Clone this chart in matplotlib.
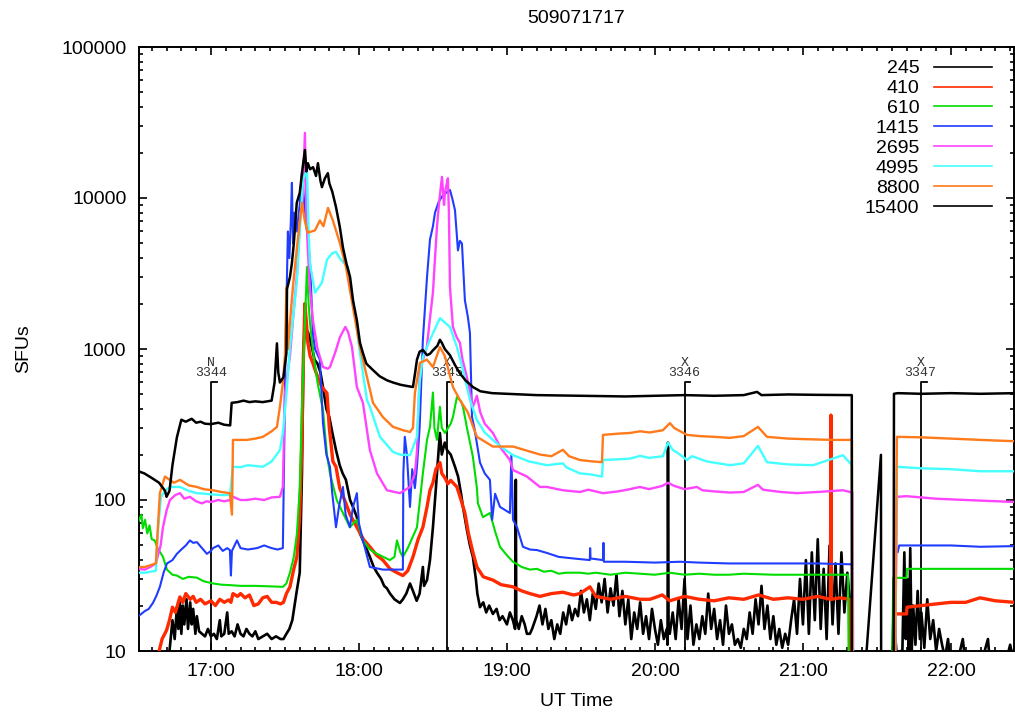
import matplotlib
matplotlib.use("Agg")
import matplotlib.pyplot as plt
from matplotlib.ticker import FixedLocator, FuncFormatter, NullFormatter
import numpy as np

plt.rcParams['font.family'] = ['Liberation Sans', 'DejaVu Sans']

title = "509071717"
freqs = ["245", "410", "610", "1415", "2695", "4995", "8800", "15400"]
colors = ["#000000", "#ff2a00", "#00dd00", "#1f3cff", "#ff44ff", "#44ffff", "#ff7a1a", "#000000"]

# ---- data: time in decimal UT hours, flux in SFU ----
t_245 = [16.51, 16.70, 16.72, 16.74, 16.755, 16.77, 16.78, 16.79, 16.80, 16.81, 16.82, 16.835, 16.845, 16.86, 16.87,
         16.88, 16.895, 16.905, 16.92, 16.94, 16.96, 16.98, 17.0, 17.02, 17.04, 17.06, 17.07, 17.09, 17.11, 17.12,
         17.14, 17.16, 17.18, 17.2, 17.22, 17.24, 17.26, 17.28, 17.30, 17.32, 17.35, 17.38, 17.41, 17.44, 17.47,
         17.49, 17.51, 17.53, 17.55, 17.58, 17.60, 17.615, 17.625, 17.635, 17.645, 17.655, 17.67, 17.685, 17.70,
         17.72, 17.74, 17.757, 17.78, 17.80, 17.82, 17.845, 17.87, 17.89, 17.912, 17.94, 17.96, 17.986, 18.007,
         18.027, 18.05, 18.074, 18.10, 18.122, 18.15, 18.17, 18.189, 18.21, 18.24, 18.277, 18.297, 18.32, 18.345,
         18.365, 18.39, 18.41, 18.432, 18.44, 18.46, 18.48, 18.50, 18.52, 18.547, 18.56, 18.58, 18.595, 18.62,
         18.649, 18.67, 18.69, 18.703, 18.73, 18.75, 18.77, 18.79, 18.80, 18.818, 18.84, 18.86, 18.88, 18.905,
         18.93, 18.95, 18.97, 19.0, 19.02, 19.04, 19.055, 19.060, 19.063, 19.08, 19.1, 19.12, 19.135, 19.155,
         19.17, 19.2, 19.22, 19.24, 19.26, 19.28, 19.30, 19.32, 19.34, 19.36, 19.38, 19.40, 19.42, 19.44, 19.46,
         19.48, 19.50, 19.52, 19.54, 19.56, 19.58, 19.60, 19.62, 19.64, 19.66, 19.68, 19.70, 19.72, 19.74, 19.76,
         19.78, 19.80, 19.82, 19.84, 19.86, 19.88, 19.90, 19.92, 19.94, 19.96, 19.98, 20.0, 20.02, 20.04, 20.06,
         20.08, 20.085, 20.088, 20.092, 20.10, 20.12, 20.14, 20.16, 20.18, 20.20, 20.22, 20.24, 20.26, 20.28,
         20.30, 20.32, 20.34, 20.36, 20.38, 20.40, 20.42, 20.44, 20.46, 20.48, 20.50, 20.52, 20.54, 20.56, 20.58,
         20.60, 20.62, 20.64, 20.66, 20.68, 20.70, 20.72, 20.74, 20.76, 20.78, 20.80, 20.82, 20.84, 20.86, 20.88,
         20.90, 20.92, 20.94, 20.96, 20.98, 21.00, 21.02, 21.04, 21.06, 21.08, 21.10, 21.12, 21.14, 21.16, 21.18,
         21.20, 21.22, 21.24, 21.26, 21.28, 21.30, 21.32, 21.33, 21.60, 21.615, 21.625, 21.635, 21.65, 21.66,
         21.67, 21.685, 21.695, 21.705, 21.715, 21.725, 21.735, 21.745, 21.76, 21.775, 21.79, 21.80, 21.82, 21.84,
         21.86, 21.88, 21.90, 21.92, 21.94, 21.96, 21.98, 22.0, 22.05, 22.08, 22.1, 22.15, 22.2, 22.25, 22.27,
         22.3, 22.35, 22.4, 22.43]
v_245 = [5, 5, 10, 16, 12, 19.5, 14, 21, 13, 20, 15, 22, 14, 21, 15,
         19, 13, 17, 13.5, 13, 12.5, 14, 12.5, 13, 12, 16, 12.5, 13, 18, 13,
         13.5, 12.5, 15, 13, 12.5, 14, 13, 12.5, 13.5, 12, 12.5, 13, 12, 12.5, 12,
         12, 13, 14, 16, 25, 33, 150, 1000, 1400, 1200, 1300, 1150, 1000, 850,
         800, 700, 560, 400, 354, 280, 214, 170, 150, 136, 100, 90, 77, 60,
         54, 48, 42, 36, 33, 30, 27, 26, 24, 22, 20.8, 22, 24, 28,
         25, 21.5, 24, 36, 27, 29.5, 40, 66, 120, 278, 200, 240, 214, 200,
         166, 143, 110, 90, 63, 50, 42, 30, 24, 19.5, 21, 18, 20, 17.6,
         19, 16, 17, 15, 18, 16, 14, 136, 16, 14, 17, 15, 13, 13,
         14, 17, 20, 15, 19, 14, 16, 12, 15, 13, 18, 15, 20, 16, 19,
         17, 25, 18, 22, 16, 24, 19, 28, 21, 30, 18, 26, 20, 32, 17,
         25, 15, 22, 12, 18, 14, 21, 13, 17, 12, 19, 14, 11, 16, 12,
         14, 11, 240, 15, 13, 18, 12, 22, 14, 30, 12, 20, 11, 15,
         12, 17, 13, 24, 14, 19, 12, 16, 11, 20, 13, 15, 11, 12, 10.5,
         14, 12, 18, 13, 22, 15, 27, 14, 20, 12, 17, 11, 14, 10.5, 13,
         11, 16, 22, 13, 30, 15, 40, 13, 45, 16, 55, 14, 35, 12, 50,
         15, 38, 13, 45, 18, 33, 20, 5, 5, 26, 12, 9, 8, 10,
         8, 45, 12, 30, 9, 48, 10, 20, 11, 25, 12, 18, 10.5, 22,
         12, 16, 10, 14, 11, 9, 12, 8, 9, 12, 8, 7, 8, 12, 7,
         8, 7, 11, 8]

t_410 = [16.51, 16.64, 16.65, 16.67, 16.70, 16.72, 16.74, 16.76, 16.79, 16.81, 16.83, 16.86, 16.88, 16.9, 16.93,
         16.96, 17.0, 17.03, 17.06, 17.09, 17.12, 17.135, 17.149, 17.18, 17.2, 17.23, 17.26, 17.29, 17.32, 17.35,
         17.38, 17.41, 17.44, 17.47, 17.49, 17.51, 17.534, 17.56, 17.581, 17.60, 17.615, 17.625, 17.635, 17.645,
         17.655, 17.67, 17.69, 17.71, 17.73, 17.75, 17.784, 17.80, 17.824, 17.845, 17.87, 17.912, 17.94, 17.986,
         18.03, 18.074, 18.12, 18.162, 18.21, 18.257, 18.297, 18.33, 18.365, 18.40, 18.432, 18.46, 18.48, 18.50,
         18.52, 18.547, 18.56, 18.581, 18.601, 18.62, 18.662, 18.69, 18.716, 18.74, 18.77, 18.797, 18.84, 18.905,
         18.96, 19.041, 19.1, 19.155, 19.223, 19.3, 19.378, 19.45, 19.493, 19.561, 19.6, 19.649, 19.7, 19.8, 19.9,
         19.966, 20.05, 20.1, 20.2, 20.3, 20.4, 20.5, 20.6, 20.7, 20.8, 20.9, 21.0, 21.1, 21.186, 21.189, 21.192,
         21.25, 21.318, 21.32, 21.62, 21.622, 21.70, 21.703, 21.8, 21.9, 22.0, 22.1, 22.196, 22.3, 22.43]
v_410 = [5, 5, 10, 12, 13.7, 16, 19.5, 18, 22.8, 21, 24, 22, 23, 21, 22,
         20.5, 21.5, 20, 22, 21, 21.8, 21, 24, 23, 24, 22.5, 23.5, 20, 20.5, 22.5,
         23, 21, 21, 20.5, 21, 24, 26.6, 35, 42, 80, 250, 900, 2000, 1500,
         1100, 900, 800, 700, 620, 560, 510, 300, 180, 166, 120, 95, 80, 66,
         55, 49, 43, 40, 35, 33, 31.6, 34, 42, 55, 66, 90, 116, 130,
         160, 177, 150, 140, 128, 135, 122, 100, 82, 60, 45, 36, 31, 29.5,
         27.5, 26.6, 25, 24, 23, 24, 24.5, 23.5, 24, 26.6, 23, 22.5, 22, 23, 22,
         22, 23.5, 21.5, 23, 22, 21.5, 22.5, 22, 23.5, 22, 22.5, 22, 23, 22, 365, 22,
         22.5, 22, 5, 5, 17.6, 17.6, 19.5, 20, 20.5, 21, 21, 22.5, 21.5, 21]

t_610 = [16.51, 16.53, 16.54, 16.555, 16.57, 16.585, 16.60, 16.62, 16.64, 16.676, 16.703, 16.74, 16.77, 16.81, 16.85,
         16.905, 16.95, 17.014, 17.07, 17.128, 17.2, 17.3, 17.4, 17.486, 17.51, 17.534, 17.56, 17.581, 17.60,
         17.615, 17.635, 17.649, 17.66, 17.669, 17.689, 17.72, 17.757, 17.784, 17.804, 17.85, 17.892, 17.939,
         17.986, 18.027, 18.074, 18.122, 18.209, 18.24, 18.257, 18.28, 18.297, 18.33, 18.392, 18.432, 18.46, 18.48,
         18.50, 18.51, 18.527, 18.547, 18.56, 18.581, 18.62, 18.635, 18.662, 18.69, 18.703, 18.73, 18.77, 18.797,
         18.804, 18.838, 18.885, 18.92, 18.953, 19.0, 19.041, 19.1, 19.155, 19.203, 19.25, 19.3, 19.35, 19.4,
         19.493, 19.55, 19.6, 19.7, 19.8, 19.9, 20.0, 20.1, 20.2, 20.3, 20.4, 20.5, 20.6, 20.8, 21.0, 21.2,
         21.305, 21.31, 21.60, 21.61, 21.70, 21.703, 22.43]
v_610 = [72, 80, 65, 74, 60, 68, 55, 54, 48, 42, 34.6, 32, 31.6, 30, 31,
         30.6, 29, 28, 27.5, 27.3, 27, 27, 26.8, 26.6, 28, 33, 42, 60, 120,
         414, 1500, 3500, 2000, 1500, 985, 600, 395, 200, 150, 100, 82, 66,
         74, 54, 47, 44, 40, 42, 54, 45, 42, 48, 66, 150, 250, 305,
         515, 300, 250, 414, 300, 278, 320, 354, 480, 450, 414, 300, 193, 120,
         95, 77, 82, 62, 49, 43, 39, 36, 34.6, 35, 33.5, 34, 32.5, 33,
         33, 32.5, 33, 32, 33, 32.5, 32, 33, 32, 32.5, 32, 32, 32.5, 32, 32, 32,
         32, 5, 5, 30.5, 30.5, 35, 35]

t_1415 = [16.51, 16.554, 16.58, 16.608, 16.63, 16.655, 16.68, 16.703, 16.74, 16.77, 16.80, 16.83, 16.858, 16.88,
          16.905, 16.94, 16.973, 17.0, 17.014, 17.05, 17.08, 17.11, 17.128, 17.135, 17.142, 17.176, 17.2, 17.25,
          17.311, 17.36, 17.41, 17.45, 17.486, 17.495, 17.50, 17.51, 17.52, 17.53, 17.54, 17.547, 17.555, 17.565,
          17.58, 17.60, 17.615, 17.625, 17.635, 17.649, 17.669, 17.689, 17.703, 17.736, 17.757, 17.78, 17.804,
          17.82, 17.845, 17.865, 17.892, 17.91, 17.939, 17.96, 17.986, 18.0, 18.027, 18.074, 18.162, 18.297,
          18.30, 18.31, 18.324, 18.345, 18.36, 18.378, 18.392, 18.41, 18.432, 18.46, 18.48, 18.50, 18.514, 18.54,
          18.57, 18.615, 18.63, 18.649, 18.669, 18.682, 18.696, 18.716, 18.736, 18.75, 18.764, 18.78, 18.818,
          18.85, 18.885, 18.90, 18.92, 18.953, 19.02, 19.03, 19.041, 19.068, 19.108, 19.155, 19.203, 19.27, 19.35,
          19.45, 19.56, 19.562, 19.565, 19.649, 19.652, 19.655, 19.8, 20.0, 20.169, 20.3, 20.5, 20.7, 20.9, 21.1,
          21.331, 21.335, 21.62, 21.625, 21.64, 21.65, 22.0, 22.2, 22.43]
v_1415 = [17, 18.4, 19, 20.8, 23, 26.6, 33, 38, 40, 44, 47, 50, 54, 52,
          52.6, 48, 44, 46, 48, 50, 46, 48, 46.6, 31.6, 46, 54, 48, 47,
          48, 50, 48, 47, 48, 214, 600, 2000, 6000, 4000, 7100, 12600, 5000, 8000,
          6000, 9000, 15000, 11000, 8000, 6000, 3880, 1280, 1000, 850, 323, 200, 166,
          110, 66, 90, 122, 80, 66, 90, 111, 70, 54, 36, 34.6, 34.6,
          150, 262, 200, 90, 160, 120, 166, 300, 1150, 3000, 5300, 6500, 8000, 9500,
          10500, 11300, 10000, 8300, 4500, 5200, 5000, 2100, 1630, 1280, 354, 300, 177,
          150, 136, 74, 110, 90, 82, 200, 74, 66, 49, 47, 46.6, 44.6, 42,
          41, 40, 48, 41, 40, 52, 39, 39, 38.5, 39, 38.5, 38, 38, 38, 38,
          37.5, 5, 5, 50, 45, 50, 50, 49, 49.5]

t_2695 = [16.51, 16.554, 16.59, 16.628, 16.66, 16.676, 16.70, 16.723, 16.76, 16.791, 16.82, 16.858, 16.9, 16.939,
          16.97, 17.0, 17.05, 17.09, 17.128, 17.149, 17.2, 17.243, 17.3, 17.36, 17.41, 17.466, 17.486, 17.50,
          17.514, 17.534, 17.554, 17.58, 17.601, 17.62, 17.635, 17.645, 17.655, 17.669, 17.689, 17.72, 17.757,
          17.79, 17.804, 17.84, 17.872, 17.908, 17.926, 17.953, 17.986, 18.027, 18.074, 18.122, 18.189, 18.277,
          18.345, 18.378, 18.392, 18.412, 18.432, 18.459, 18.48, 18.50, 18.514, 18.527, 18.54, 18.561, 18.575,
          18.581, 18.59, 18.601, 18.608, 18.615, 18.635, 18.66, 18.682, 18.70, 18.73, 18.77, 18.797, 18.82, 18.85,
          18.905, 18.96, 19.02, 19.041, 19.135, 19.223, 19.27, 19.378, 19.493, 19.55, 19.649, 19.75, 19.831,
          19.899, 19.96, 20.05, 20.088, 20.13, 20.2, 20.284, 20.32, 20.4, 20.507, 20.6, 20.696, 20.73, 20.85,
          20.959, 21.1, 21.27, 21.335, 21.34, 21.62, 21.635, 21.7, 21.9, 22.1, 22.43]
v_2695 = [35, 34.6, 36, 38, 50, 66, 85, 100, 108, 111, 102, 105, 98, 95,
          98, 97, 100, 98, 100, 105, 100, 100, 102, 100, 104, 105, 122, 500,
          650, 900, 1550, 3000, 7100, 10000, 27000, 8000, 4500, 2500, 1550, 1000, 760,
          740, 760, 950, 1200, 1400, 1300, 1030, 560, 440, 214, 150, 116, 111,
          122, 150, 208, 760, 850, 1030, 1600, 2360, 4000, 6400, 9000, 13800, 9000,
          10800, 12000, 13500, 8000, 2570, 1400, 1200, 1100, 850, 650, 414, 490, 380, 320,
          278, 220, 184, 158, 143, 122, 122, 116, 113, 117, 111, 114, 118,
          122, 118, 124, 130, 124, 118, 122, 116, 114, 112, 113, 126, 117, 113,
          111, 113, 116, 112, 5, 5, 105, 106, 102, 100, 97]

t_4995 = [16.51, 16.554, 16.628, 16.64, 16.662, 16.69, 16.723, 16.791, 16.85, 16.905, 16.96, 17.0, 17.06, 17.128,
          17.149, 17.2, 17.25, 17.3, 17.351, 17.41, 17.466, 17.486, 17.51, 17.534, 17.581, 17.60, 17.622, 17.649,
          17.66, 17.669, 17.703, 17.75, 17.784, 17.818, 17.845, 17.87, 17.892, 17.926, 17.959, 18.007, 18.054,
          18.074, 18.142, 18.23, 18.277, 18.345, 18.392, 18.41, 18.432, 18.48, 18.52, 18.547, 18.58, 18.615,
          18.662, 18.703, 18.75, 18.797, 18.85, 18.905, 18.96, 19.041, 19.15, 19.27, 19.378, 19.40, 19.493, 19.56,
          19.642, 19.649, 19.75, 19.831, 19.9, 19.96, 20.054, 20.088, 20.12, 20.169, 20.216, 20.25, 20.284, 20.35,
          20.507, 20.6, 20.696, 20.757, 20.9, 21.068, 21.27, 21.331, 21.335, 21.62, 21.635, 21.8, 22.0, 22.2, 22.43]
v_4995 = [33, 33, 34, 60, 105, 115, 122, 122, 115, 111, 110, 109, 108, 108,
          166, 165, 170, 168, 166, 180, 214, 278, 500, 1030, 2850, 6000, 13200, 15300,
          6000, 3700, 2360, 2750, 3900, 4300, 4400, 4000, 3770, 3500, 2110, 940, 460,
          414, 262, 208, 200, 198, 262, 600, 885, 1150, 1400, 1600, 1500, 1400,
          1030, 725, 460, 339, 280, 250, 225, 198, 180, 170, 175, 165, 150, 148,
          143, 184, 186, 188, 196, 190, 195, 240, 215, 200, 184, 195, 190, 180,
          170, 175, 228, 178, 172, 170, 198, 170, 5, 5, 166, 162, 160, 155, 155]

t_8800 = [16.51, 16.554, 16.628, 16.655, 16.689, 16.75, 16.791, 16.85, 16.905, 16.95, 17.014, 17.07, 17.128, 17.142,
          17.149, 17.2, 17.243, 17.30, 17.351, 17.41, 17.446, 17.466, 17.486, 17.50, 17.51, 17.52, 17.534, 17.554,
          17.581, 17.615, 17.635, 17.655, 17.703, 17.736, 17.76, 17.791, 17.824, 17.872, 17.912, 17.959, 18.007,
          18.027, 18.095, 18.162, 18.23, 18.297, 18.345, 18.365, 18.378, 18.412, 18.459, 18.5, 18.547, 18.58,
          18.635, 18.682, 18.736, 18.797, 18.905, 19.041, 19.223, 19.30, 19.378, 19.42, 19.493, 19.58, 19.642,
          19.649, 19.75, 19.831, 19.9, 19.966, 20.054, 20.101, 20.13, 20.216, 20.3, 20.4, 20.507, 20.6, 20.696,
          20.757, 20.9, 21.068, 21.2, 21.331, 21.335, 21.62, 21.635, 21.8, 22.0, 22.2, 22.43]
v_8800 = [36, 36, 38, 111, 143, 130, 136, 125, 122, 118, 116, 113, 111, 80,
          250, 250, 250, 255, 262, 285, 305, 414, 595, 900, 2570, 1000, 1500, 2570,
          4700, 9300, 7000, 5900, 6100, 7100, 6500, 8600, 7100, 5000, 3500, 1900, 1030,
          850, 440, 354, 305, 290, 282, 300, 510, 810, 850, 760, 1030, 900,
          560, 460, 380, 262, 226, 226, 200, 195, 215, 195, 184, 180, 178,
          270, 275, 278, 285, 280, 290, 323, 300, 270, 265, 262, 258, 265, 305,
          262, 255, 252, 250, 250, 5, 5, 262, 260, 255, 250, 245]

t_15400 = [16.51, 16.55, 16.60, 16.65, 16.69, 16.70, 16.72, 16.74, 16.77, 16.80, 16.83, 16.87, 16.9, 16.93, 16.96,
           17.0, 17.05, 17.09, 17.13, 17.14, 17.18, 17.22, 17.26, 17.30, 17.35, 17.41, 17.43, 17.446, 17.455,
           17.466, 17.49, 17.51, 17.514, 17.534, 17.547, 17.56, 17.58, 17.60, 17.62, 17.635, 17.645, 17.655, 17.67,
           17.69, 17.71, 17.723, 17.74, 17.75, 17.77, 17.79, 17.80, 17.82, 17.845, 17.87, 17.892, 17.915, 17.94,
           17.96, 17.986, 18.007, 18.027, 18.05, 18.095, 18.14, 18.19, 18.23, 18.28, 18.32, 18.365, 18.38, 18.392,
           18.41, 18.432, 18.46, 18.48, 18.50, 18.53, 18.547, 18.56, 18.58, 18.615, 18.65, 18.682, 18.72, 18.77,
           18.82, 18.9, 19.0, 19.2, 19.5, 19.8, 20.0, 20.2, 20.4, 20.6, 20.69, 20.72, 20.9, 21.1, 21.33, 21.331,
           21.43, 21.527, 21.53, 21.61, 21.615, 21.64, 21.8, 22.0, 22.2, 22.43]
v_15400 = [155, 150, 140, 130, 115, 105, 115, 170, 260, 340, 330, 345, 325, 330, 320,
           318, 325, 315, 312, 440, 445, 455, 445, 450, 445, 455, 600, 1090, 700,
           600, 650, 940, 2500, 3000, 3700, 5000, 9300, 10800, 16000, 20800, 15000, 17000, 15500,
           16000, 14000, 17000, 13000, 11800, 13500, 14600, 12500, 11000, 8700, 6500, 4700, 3700, 3000,
           2100, 1550, 1100, 940, 800, 725, 660, 620, 600, 580, 570, 560, 700, 850,
           960, 985, 910, 930, 980, 1050, 1150, 1100, 1000, 910, 780, 690, 620, 560,
           525, 510, 505, 495, 490, 485, 490, 495, 490, 495, 520, 495, 500, 497, 495, 0.1,
           10, 199, 0.1, 0.1, 505, 510, 505, 510, 505, 510]

series_t = [t_245, t_410, t_610, t_1415, t_2695, t_4995, t_8800, t_15400]
series_v = [v_245, v_410, v_610, v_1415, v_2695, v_4995, v_8800, v_15400]
widths = [1.9, 2.4, 1.5, 1.5, 1.7, 1.7, 1.7, 1.8]

# region markers: (time, class, number)
mark_t = [17.0, 18.595, 20.20, 21.795]
mark_cls = ["N", "X", "X", "X"]
mark_num = ["3344", "3345", "3346", "3347"]
mark_top = 605

hour_ticks = [17, 18, 19, 20, 21, 22]
y_ticks = [10, 100, 1000, 10000, 100000]

FS = 14

fig = plt.figure(figsize=(10.15, 7.14), dpi=100)
ax = fig.add_axes([139/1015, 63/714, 875/1015, 604/714])
ax.set_yscale('log')
ax.set_xlim(16.514, 22.426)
ax.set_ylim(10, 100000)

# markers beneath the curves
for t, c, n in zip(mark_t, mark_cls, mark_num):
    ax.plot([t, t, t + 0.04], [10, mark_top, mark_top], color='black', lw=1.3, zorder=1)
    ax.annotate(c + "\n" + n, xy=(t, mark_top), xytext=(0, 2), textcoords='offset points',
                ha='center', va='bottom', fontsize=9.5, family='Liberation Mono', color='#333333',
                linespacing=0.8, zorder=1)

for i, (tt, vv) in enumerate(zip(series_t, series_v)):
    ax.plot(tt, vv, color=colors[i], lw=widths[i], zorder=2 + i, label=freqs[i])

leg = ax.legend(loc='upper right', bbox_to_anchor=(1 - 14/875, 1 - 5/604), borderaxespad=0,
                frameon=False, markerfirst=False, fontsize=FS,
                handlelength=3.0, handletextpad=0.75, labelspacing=0.12)
for h in leg.get_lines():
    h.set_linewidth(1.2)

ax.xaxis.set_major_locator(FixedLocator(hour_ticks))
ax.xaxis.set_minor_locator(FixedLocator([16.6 + 0.1 * k for k in range(59)]))
ax.xaxis.set_major_formatter(FuncFormatter(lambda x, p: "%d:00" % round(x)))
ax.yaxis.set_major_locator(FixedLocator(y_ticks))
ax.yaxis.set_major_formatter(FuncFormatter(lambda y, p: "%d" % round(y)))
ax.yaxis.set_minor_formatter(NullFormatter())

ax.tick_params(which='both', direction='in', top=True, right=True, labelsize=FS, width=1.2)
ax.tick_params(which='major', length=6)
ax.tick_params(which='minor', length=3)
ax.tick_params(axis='x', which='major', pad=9)
ax.tick_params(axis='y', which='major', pad=9)
for s in ax.spines.values():
    s.set_linewidth(1.4)

ax.set_title(title, fontsize=FS, pad=17)
ax.set_xlabel("UT Time", fontsize=FS, labelpad=9)
ax.set_ylabel("SFUs", fontsize=FS, labelpad=21)

fig.savefig("out.png", dpi=100)
